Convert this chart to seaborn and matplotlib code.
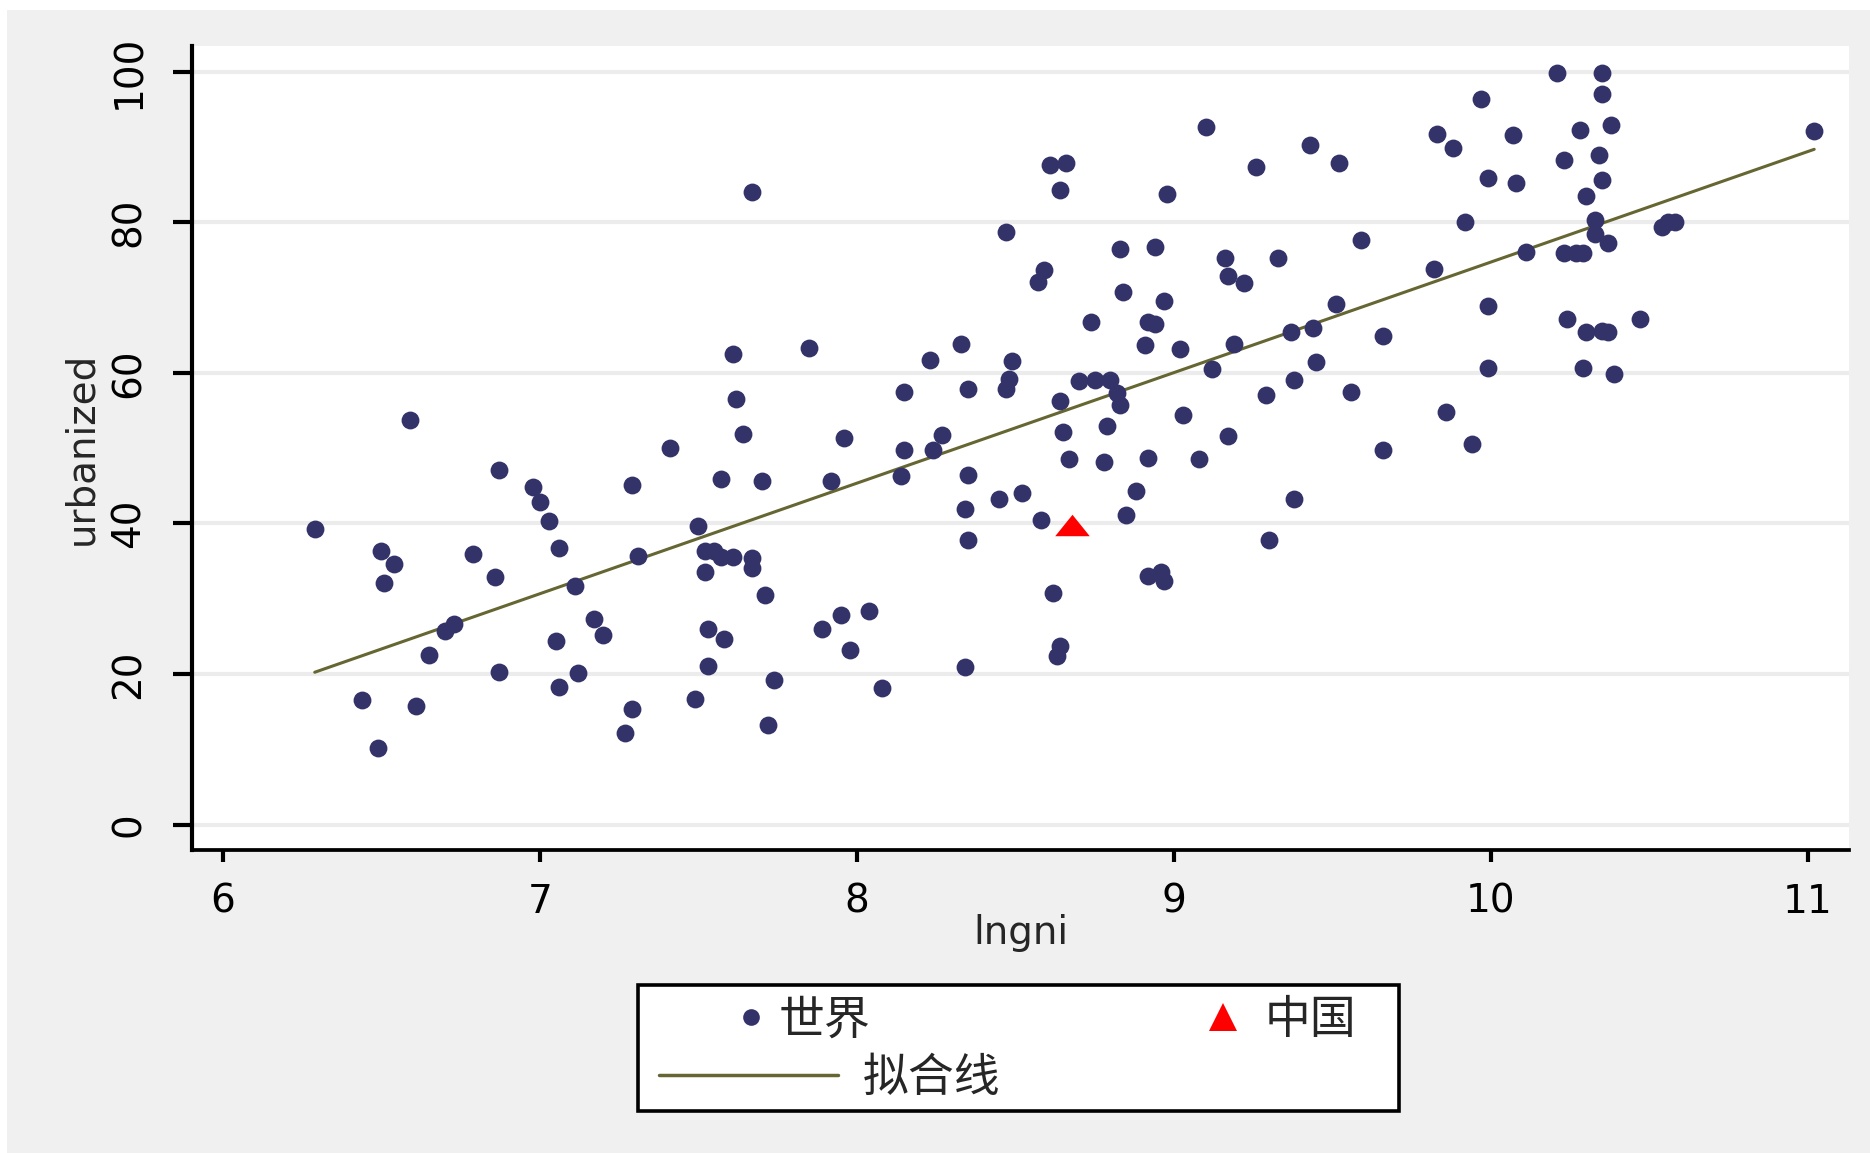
import matplotlib
matplotlib.use("Agg")

import numpy as np
import seaborn as sns
import matplotlib.pyplot as plt
from matplotlib.lines import Line2D
from matplotlib.patches import Rectangle
from matplotlib.path import Path

# ---------------------------------------------------------------------------
# Data (lngni vs urbanized)
# ---------------------------------------------------------------------------
world_lngni = [
    6.29, 6.44, 6.49, 6.50, 6.51, 6.54, 6.59, 6.61, 6.65, 6.70, 6.73, 6.79,
    6.86, 6.87, 6.87, 6.98, 7.00, 7.03, 7.05, 7.06, 7.06, 7.11, 7.12, 7.17,
    7.20, 7.27, 7.29, 7.29, 7.31, 7.41, 7.49, 7.50, 7.52, 7.52, 7.53, 7.53,
    7.55, 7.57, 7.57, 7.58, 7.61, 7.61, 7.62, 7.64, 7.67, 7.67, 7.67, 7.70,
    7.71, 7.72, 7.74, 7.85, 7.89, 7.92, 7.95, 7.96, 7.98, 8.04, 8.08, 8.14,
    8.15, 8.15, 8.23, 8.24, 8.27, 8.33, 8.34, 8.34, 8.35, 8.35, 8.35, 8.45,
    8.47, 8.47, 8.48, 8.49, 8.52, 8.57, 8.59, 8.58, 8.61, 8.62, 8.63, 8.64,
    8.64, 8.64, 8.65, 8.66, 8.67, 8.70, 8.74, 8.75, 8.78, 8.79, 8.80, 8.82,
    8.83, 8.83, 8.84, 8.85, 8.88, 8.91, 8.92, 8.92, 8.92, 8.94, 8.94, 8.96,
    8.97, 8.97, 8.98, 9.02, 9.03, 9.08, 9.10, 9.12, 9.16, 9.17, 9.17, 9.19,
    9.22, 9.26, 9.29, 9.30, 9.33, 9.37, 9.38, 9.38, 9.43, 9.44, 9.45, 9.51,
    9.52, 9.56, 9.59, 9.66, 9.66, 9.82, 9.83, 9.86, 9.88, 9.92, 9.94, 9.97,
    9.99, 9.99, 9.99, 10.07, 10.08, 10.11, 10.21, 10.24, 10.23, 10.23, 10.27,
    10.28, 10.29, 10.29, 10.30, 10.30, 10.33, 10.33, 10.34, 10.35, 10.35,
    10.35, 10.35, 10.37, 10.37, 10.38, 10.39, 10.47, 10.54, 10.56, 10.58,
    11.02,
]
world_urbanized = [
    39.2, 16.5, 10.2, 36.3, 32.1, 34.6, 53.7, 15.7, 22.5, 25.7, 26.7, 36.0,
    32.9, 47.1, 20.3, 44.9, 42.9, 40.3, 24.4, 36.7, 18.3, 31.7, 20.2, 27.3,
    25.2, 12.2, 15.4, 45.1, 35.7, 50.0, 16.7, 39.7, 36.3, 33.5, 26.0, 21.1,
    36.3, 35.6, 45.9, 24.6, 35.6, 62.5, 56.5, 51.9, 35.4, 34.1, 84.0, 45.6,
    30.5, 13.2, 19.2, 63.3, 26.0, 45.7, 27.9, 51.3, 23.2, 28.4, 18.1, 46.3,
    49.7, 57.5, 61.7, 49.7, 51.7, 63.8, 41.9, 21.0, 37.8, 46.5, 57.8, 43.2,
    78.7, 57.8, 59.2, 61.6, 44.1, 72.1, 73.7, 40.5, 87.6, 30.8, 22.4, 23.7,
    84.3, 56.3, 52.2, 87.8, 48.6, 58.9, 66.8, 59.0, 48.1, 53.0, 59.0, 57.3,
    55.7, 76.5, 70.8, 41.1, 44.3, 63.7, 66.8, 48.7, 33.0, 76.7, 66.5, 33.5,
    69.5, 32.4, 83.7, 63.2, 54.4, 48.6, 92.7, 60.5, 75.2, 51.6, 72.9, 63.8,
    71.9, 87.3, 57.0, 37.8, 75.2, 65.4, 59.0, 43.3, 90.2, 66.0, 61.4, 69.2,
    87.8, 57.5, 77.6, 49.8, 64.9, 73.8, 91.7, 54.8, 89.8, 80.0, 50.6, 96.3,
    85.9, 68.9, 60.6, 91.6, 85.2, 76.0, 99.8, 67.1, 88.3, 75.9, 75.9,
    92.2, 75.9, 60.6, 65.4, 83.5, 80.3, 78.4, 88.9, 99.8, 97.0,
    85.6, 65.6, 77.3, 65.4, 92.9, 59.8, 67.1, 79.4, 80.0, 80.0,
    92.1,
]
china_lngni = [8.68]
china_urbanized = [39.8]

x_ticks = [6, 7, 8, 9, 10, 11]
y_ticks = [0, 20, 40, 60, 80, 100]
legend_labels = ["世界", "中国", "拟合线"]

NAVY = "#33336a"
OLIVE = "#666633"
RED = "#ff0000"
BG = "#f0f0f0"

sns.set_style("white")
plt.rcParams["font.family"] = ["DejaVu Sans", "Noto Sans CJK SC"]

fig = plt.figure(figsize=(18.7, 11.53), dpi=100, facecolor="white")
# Stata-like grey graph region (thin white strip at top / left)
fig.patches.append(Rectangle((7 / 1870, 0), 1, 1 - 10 / 1153,
                             transform=fig.transFigure, facecolor=BG,
                             edgecolor="none", zorder=-10))

ax = fig.add_axes([0.1027, 0.2628, 0.9888 - 0.1027, 0.9601 - 0.2628])
ax.set_facecolor("white")

all_x = np.array(world_lngni + china_lngni)
all_y = np.array(world_urbanized + china_urbanized)

sns.regplot(x=all_x, y=all_y, scatter=False, ci=None, truncate=True,
            line_kws=dict(color=OLIVE, lw=2.2, zorder=2), ax=ax)
sns.scatterplot(x=world_lngni, y=world_urbanized, color=NAVY, s=165,
                linewidth=0, marker="o", zorder=3, ax=ax)
tri = Path([(-1, -0.62), (1, -0.62), (0, 0.62), (-1, -0.62)])
sns.scatterplot(x=china_lngni, y=china_urbanized, color=RED, s=620,
                linewidth=0, marker=tri, zorder=4, ax=ax)

ax.set_xlim(5.903, 11.13)
ax.set_ylim(-3.36, 103.4)
ax.set_xticks(x_ticks)
ax.set_yticks(y_ticks)
ax.set_xlabel("lngni", fontsize=28, labelpad=-5)
ax.set_ylabel("urbanized", fontsize=28, labelpad=7)

ax.yaxis.grid(True, color="#ececec", lw=3)
ax.xaxis.grid(False)
ax.set_axisbelow(True)

for side in ("top", "right"):
    ax.spines[side].set_visible(False)
ax.spines["left"].set_linewidth(3)
ax.spines["bottom"].set_linewidth(2.7)
for side in ("left", "bottom"):
    ax.spines[side].set_color("black")

ax.tick_params(axis="x", direction="out", length=8.6, width=3, pad=15,
               labelsize=28, bottom=True, colors="black")
ax.tick_params(axis="y", direction="out", length=13.7, width=3, pad=18,
               labelsize=28, left=True, labelrotation=90, colors="black")
plt.setp(ax.get_yticklabels(), va="center")

# ---------------------------------------------------------------------------
# Legend box (Stata style: framed, below the plot)
# ---------------------------------------------------------------------------
fig.patches.append(Rectangle((0.3412, 0.0364), 0.7481 - 0.3412, 0.1457 - 0.0364,
                             transform=fig.transFigure, facecolor="white",
                             edgecolor="black", lw=2.6, zorder=1))

leg_prop = {"family": ["Noto Sans CJK SC", "DejaVu Sans"], "size": 33}
h_world = Line2D([], [], ls="none", marker="o", markersize=12,
                 markerfacecolor=NAVY, markeredgewidth=0)
h_china = Line2D([], [], ls="none", marker="^", markersize=20,
                 markerfacecolor=RED, markeredgewidth=0)
h_fit = Line2D([], [], color=OLIVE, lw=2.5)

common = dict(loc="center left", frameon=False, borderpad=0,
              borderaxespad=0, prop=leg_prop)
fig.legend(handles=[h_world], labels=[legend_labels[0]],
           bbox_to_anchor=(0.3893, 0.1154), handlelength=1.0,
           handletextpad=0.1, **common)
fig.legend(handles=[h_china], labels=[legend_labels[1]],
           bbox_to_anchor=(0.6417, 0.1154), handlelength=1.0,
           handletextpad=0.4, **common)
fig.legend(handles=[h_fit], labels=[legend_labels[2]],
           bbox_to_anchor=(0.3524, 0.065), handlelength=3.9,
           handletextpad=0.55, **common)

fig.savefig("out.png", dpi=100, facecolor=fig.get_facecolor())
